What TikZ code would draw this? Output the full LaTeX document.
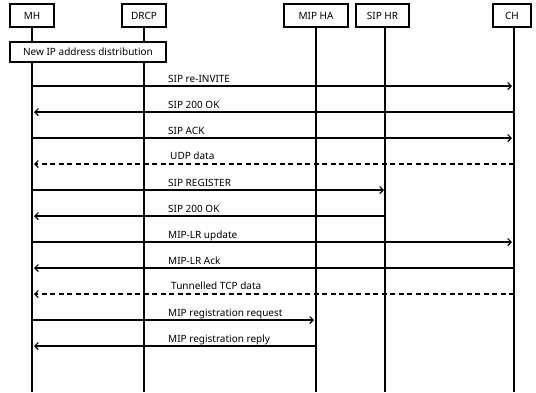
\documentclass[tikz,border=0pt]{standalone}
\usepackage{fontspec}
\setmainfont{Noto Sans}
\usetikzlibrary{arrows.meta}
\begin{document}
\begin{tikzpicture}[x=1pt,y=-1pt,
  font=\fontsize{10}{12}\selectfont,
  hdr/.style={draw,line width=1.1pt,minimum height=23pt,inner sep=0pt,anchor=center},
  life/.style={line width=1.2pt},
  msg/.style={line width=1.1pt,-{Straight Barb[length=3.5pt,width=7pt,line width=1.1pt]}},
  dmsg/.style={msg,dash pattern=on 5pt off 3.5pt},
  lbl/.style={anchor=base west,inner sep=0pt}]
\useasboundingbox (0,0) rectangle (536,392);
% headers
\node[hdr,minimum width=44pt] (MH) at (32,15.5) {MH};
\node[hdr,minimum width=44pt] (DRCP) at (144,15.5) {DRCP};
\node[hdr,minimum width=64pt] (HA) at (316,15.5) {MIP HA};
\node[hdr,minimum width=53pt] (HR) at (382.5,15.5) {SIP HR};
\node[hdr,minimum width=38pt] (CH) at (512,15.5) {CH};
% lifeline ends
\coordinate (MHe) at (32,392);
\coordinate (DRCPe) at (144,392);
\coordinate (HAe) at (316,392);
\coordinate (HRe) at (385,392);
\coordinate (CHe) at (514,392);
\draw[life] (MH.south) -- (MHe);
\draw[life] (DRCP.south) -- (DRCPe);
\draw[life] (HA.south) -- (HAe);
\draw[life] (HR.south -| HRe) -- (HRe);
\draw[life] (CH.south -| CHe) -- (CHe);
% new ip box
\node[hdr,minimum width=156pt,minimum height=20pt,fill=white] (NIP) at (88,52) {New IP address distribution};
% messages
\draw[msg] (MHe |- 0,86) -- ([xshift=-2pt]CHe |- 0,86);
\node[lbl] (l1) at (168,82.5) {SIP re-INVITE};
\draw[msg] (CHe |- 0,112) -- ([xshift=2pt]MHe |- 0,112);
\node[lbl] (l2) at (168,108.5) {SIP 200 OK};
\draw[msg] (MHe |- 0,138) -- ([xshift=-2pt]CHe |- 0,138);
\node[lbl] (l3) at (168,134.5) {SIP ACK};
\draw[dmsg] (CHe |- 0,164) -- ([xshift=2pt]MHe |- 0,164);
\node[lbl] (l4) at (170,159.5) {UDP data};
\draw[msg] (MHe |- 0,190) -- ([xshift=-1pt]HRe |- 0,190);
\node[lbl] (l5) at (168,186.5) {SIP REGISTER};
\draw[msg] (HRe |- 0,216) -- ([xshift=2pt]MHe |- 0,216);
\node[lbl] (l6) at (168,212.5) {SIP 200 OK};
\draw[msg] (MHe |- 0,242) -- ([xshift=-2pt]CHe |- 0,242);
\node[lbl] (l7) at (168,238.5) {MIP-LR update};
\draw[msg] (CHe |- 0,268) -- ([xshift=2pt]MHe |- 0,268);
\node[lbl] (l8) at (168,264.5) {MIP-LR Ack};
\draw[dmsg] (CHe |- 0,294) -- ([xshift=2pt]MHe |- 0,294);
\node[lbl] (l9) at (171,289.5) {Tunnelled TCP data};
\draw[msg] (MHe |- 0,320) -- ([xshift=-2pt]HAe |- 0,320);
\node[lbl] (l10) at (168,316.5) {MIP registration request};
\draw[msg] (HAe |- 0,346) -- ([xshift=2pt]MHe |- 0,346);
\node[lbl] (l11) at (168,342.5) {MIP registration reply};
\end{tikzpicture}
\end{document}
